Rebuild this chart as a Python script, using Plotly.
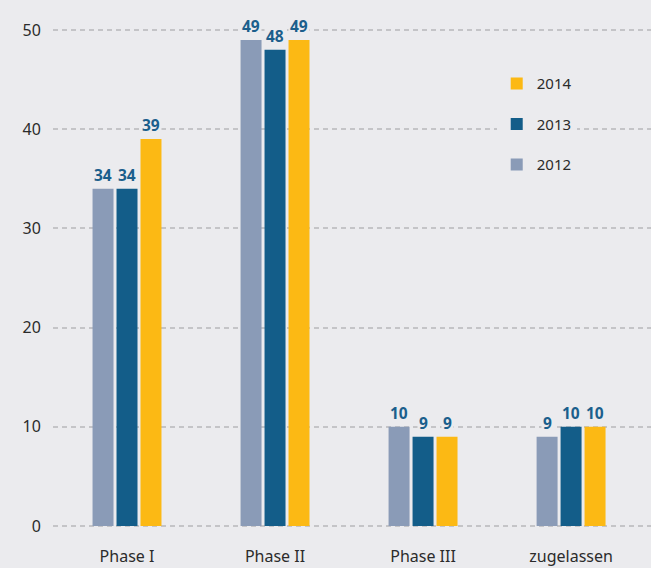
import plotly.graph_objects as go

categories = ["Phase I", "Phase II", "Phase III", "zugelassen"]
years = ["2012", "2013", "2014"]
values_2012 = [34, 49, 10, 9]
values_2013 = [34, 48, 9, 10]
values_2014 = [39, 49, 9, 10]
series = [values_2012, values_2013, values_2014]
colors = ["#8a9bb7", "#135d89", "#fcb914"]
legend_ranks = [3, 2, 1]
y_ticks = [0, 10, 20, 30, 40, 50]

BG = "#ebebee"
LABEL = "#1b5f8c"

fig = go.Figure()
for yr, vals, col, rk in zip(years, series, colors, legend_ranks):
    fig.add_trace(go.Bar(
        x=categories, y=vals, name=yr, marker_color=col,
        marker_line_width=0, legendgroup=yr, legendrank=rk,
        hoverinfo="skip"))

shifts = [-24, 0, 24]
for vals, sh in zip(series, shifts):
    for c, v in zip(categories, vals):
        fig.add_annotation(
            x=c, y=v, text=f"<b>{v}</b>", showarrow=False,
            xanchor="center", yanchor="bottom", xshift=sh, yshift=1,
            font=dict(family="Noto Sans", size=15.5, color=LABEL),
            bgcolor=BG, borderpad=1)

fig.update_layout(
    width=651, height=568,
    margin=dict(l=53, r=0, t=27, b=39, autoexpand=False),
    paper_bgcolor=BG, plot_bgcolor=BG,
    barmode="group", bargap=0.514, bargroupgap=0.125,
    font=dict(family="Noto Sans", color="#2b2b2b"),
    showlegend=True,
    legend=dict(
        x=0.742, y=0.92, xanchor="left", yanchor="top",
        traceorder="grouped", tracegroupgap=18,
        bgcolor=BG, font=dict(size=15, color="#2b2b2b"),
        itemclick=False),
    xaxis=dict(
        range=[-0.5, 3.54], showgrid=False, zeroline=False, showline=False,
        ticks="outside", ticklen=13, tickcolor="rgba(0,0,0,0)",
        tickfont=dict(size=16, color="#2b2b2b"), automargin=False),
    yaxis=dict(
        range=[-0.3, 50.3], tickvals=y_ticks, showgrid=True,
        gridcolor="#c4c4c7", gridwidth=2, griddash="5px,4px",
        zeroline=False, showline=False,
        ticks="outside", ticklen=8, tickcolor="rgba(0,0,0,0)",
        tickfont=dict(size=16, color="#2b2b2b"), automargin=False),
)

fig.write_html("out.html", config={"displayModeBar": False},
               post_script="document.body.style.margin='0px';")
